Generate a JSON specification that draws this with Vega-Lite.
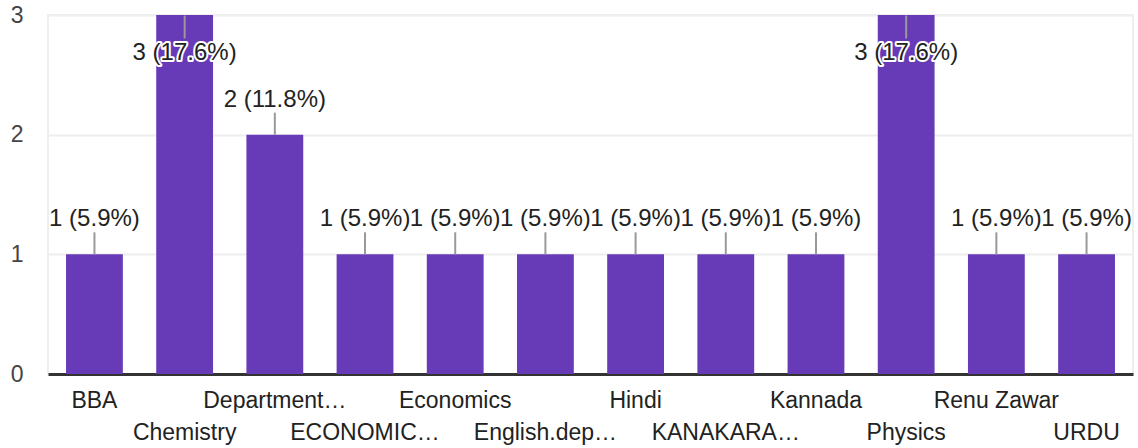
{
  "$schema": "https://vega.github.io/schema/vega-lite/v6.json",
  "width": 1085,
  "height": 359,
  "autosize": {"type": "none"},
  "padding": {"left": 48, "top": 15, "right": 5, "bottom": 74},
  "background": "white",
  "config": {
    "font": "Liberation Sans",
    "view": {"stroke": "#eeeeee", "strokeWidth": 2}
  },
  "data": {
    "values": [
      {"dept": "BBA", "count": 1, "label": "1 (5.9%)"},
      {"dept": "Chemistry", "count": 3, "label": "3 (17.6%)"},
      {"dept": "Department…", "count": 2, "label": "2 (11.8%)"},
      {"dept": "ECONOMIC…", "count": 1, "label": "1 (5.9%)"},
      {"dept": "Economics", "count": 1, "label": "1 (5.9%)"},
      {"dept": "English.dep…", "count": 1, "label": "1 (5.9%)"},
      {"dept": "Hindi", "count": 1, "label": "1 (5.9%)"},
      {"dept": "KANAKARA…", "count": 1, "label": "1 (5.9%)"},
      {"dept": "Kannada", "count": 1, "label": "1 (5.9%)"},
      {"dept": "Physics", "count": 3, "label": "3 (17.6%)"},
      {"dept": "Renu Zawar", "count": 1, "label": "1 (5.9%)"},
      {"dept": "URDU", "count": 1, "label": "1 (5.9%)"}
    ]
  },
  "encoding": {
    "x": {
      "field": "dept",
      "type": "nominal",
      "sort": null,
      "scale": {"paddingInner": 0.37, "paddingOuter": 0.2},
      "axis": {
        "title": null,
        "labelAngle": 0,
        "labelFontSize": 23,
        "labelColor": "#222222",
        "labelPadding": 15,
        "labelBaseline": "top",
        "labelLineHeight": 32,
        "labelOverlap": false,
        "labelLimit": 0,
        "ticks": false,
        "domainColor": "#333333",
        "domainWidth": 3,
        "labelExpr": "indexof(['Chemistry','ECONOMIC…','English.dep…','KANAKARA…','Physics','URDU'], datum.value) >= 0 ? ['', datum.value] : datum.value"
      }
    },
    "y": {
      "field": "count",
      "type": "quantitative",
      "scale": {"domain": [0, 3], "nice": false},
      "axis": {
        "title": null,
        "values": [0, 1, 2, 3],
        "labelFontSize": 23,
        "labelColor": "#444444",
        "labelPadding": 25,
        "domain": false,
        "ticks": false,
        "gridColor": "#eeeeee",
        "gridWidth": 2
      }
    }
  },
  "layer": [
    {"mark": {"type": "bar", "color": "#673ab7", "clip": true}},
    {
      "transform": [{"filter": "datum.count < 3"}],
      "mark": {"type": "tick", "orient": "vertical", "color": "#999999", "thickness": 2, "size": 22, "yOffset": -11, "opacity": 1}
    },
    {
      "transform": [{"filter": "datum.count >= 3"}],
      "mark": {"type": "tick", "orient": "vertical", "color": "#999999", "thickness": 2, "size": 23, "yOffset": 12, "opacity": 1}
    },
    {
      "transform": [{"filter": "datum.count < 3"}],
      "mark": {"type": "text", "fontSize": 24, "color": "#222222", "baseline": "middle", "dy": -35},
      "encoding": {"text": {"field": "label"}}
    },
    {
      "transform": [{"filter": "datum.count >= 3"}],
      "mark": {"type": "text", "fontSize": 24, "fill": "#222222", "stroke": "white", "strokeWidth": 4, "strokeJoin": "round", "baseline": "middle", "dy": 38},
      "encoding": {"text": {"field": "label"}}
    },
    {
      "transform": [{"filter": "datum.count >= 3"}],
      "mark": {"type": "text", "fontSize": 24, "color": "#222222", "baseline": "middle", "dy": 38},
      "encoding": {"text": {"field": "label"}}
    }
  ]
}
